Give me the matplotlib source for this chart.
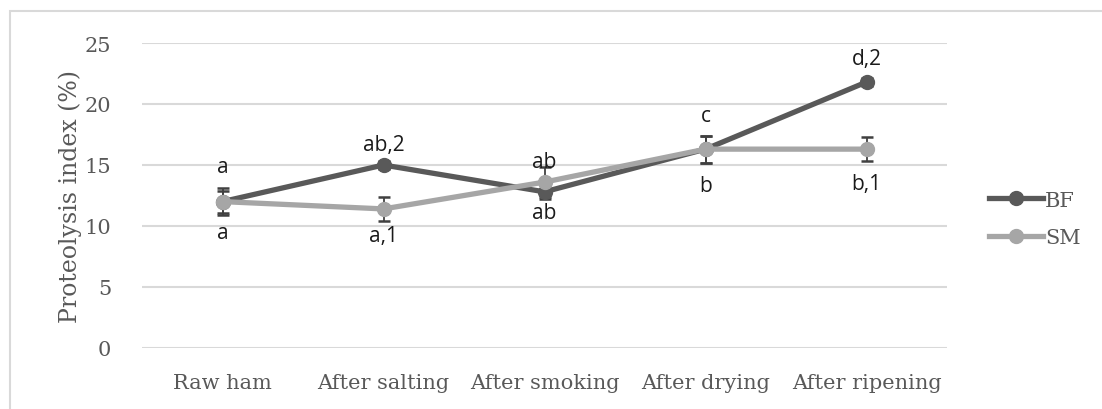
import matplotlib
matplotlib.use("Agg")
import matplotlib.pyplot as plt
from matplotlib.patches import Rectangle

stages = ["Raw ham", "After salting", "After smoking", "After drying", "After ripening"]
bf = [12.0, 15.0, 12.8, 16.3, 21.8]
sm = [12.0, 11.4, 13.6, 16.3, 16.3]
bf_err = [0.9, 0.3, 0.6, 1.1, 0.3]
sm_err = [1.1, 1.0, 1.2, 1.1, 1.0]
bf_labels = ["a", "ab,2", "ab", "c", "d,2"]
sm_labels = ["a", "a,1", "ab", "b", "b,1"]
yticks = [0, 5, 10, 15, 20, 25]

# label offsets (points, vertical) for each annotation
bf_off = [25, 15, -15, 24, 17]
sm_off = [-22, -19, 15, -26, -25]

dark = "#595959"
light = "#a6a6a6"
txt = "#595959"
serif = ["DejaVu Serif"]

fig = plt.figure(figsize=(11.02, 4.10), dpi=100)
ax = fig.add_axes([142 / 1102, 1 - 349 / 410, (947 - 142) / 1102, (349 - 44) / 410])

x = list(range(len(stages)))

ax.errorbar(x, bf, yerr=bf_err, fmt="none", ecolor="#404040", elinewidth=1.3,
            capsize=4.5, capthick=1.8, zorder=2, clip_on=False)
ax.errorbar(x, sm, yerr=sm_err, fmt="none", ecolor="#404040", elinewidth=1.3,
            capsize=4.5, capthick=1.8, zorder=2, clip_on=False)
ax.plot(x, bf, color=dark, lw=3.8, marker="o", ms=10, label="BF", zorder=3, clip_on=False)
ax.plot(x, sm, color=light, lw=3.8, marker="o", ms=10, label="SM", zorder=4, clip_on=False)

for xi, v, lab, off in zip(x, bf, bf_labels, bf_off):
    ax.annotate(lab, (xi, v), xytext=(0, off), textcoords="offset points",
                ha="center", va="center", fontsize=15, color="#1a1a1a", family="Open Sans")
for xi, v, lab, off in zip(x, sm, sm_labels, sm_off):
    ax.annotate(lab, (xi, v), xytext=(0, off), textcoords="offset points",
                ha="center", va="center", fontsize=15, color="#1a1a1a", family="Open Sans")

ax.set_xlim(-0.5, len(stages) - 0.5)
ax.set_ylim(0, 25)
ax.set_yticks(yticks)
ax.set_xticks(x)
ax.set_xticklabels(stages)
ax.grid(axis="y", color="#d9d9d9", lw=1.5)
ax.set_axisbelow(True)
for s in ax.spines.values():
    s.set_visible(False)
ax.tick_params(length=0, labelsize=15, colors=txt)
ax.tick_params(axis="y", pad=22)
ax.tick_params(axis="x", pad=18)
for lab in ax.get_xticklabels() + ax.get_yticklabels():
    lab.set_family(serif)
ax.set_ylabel("Proteolysis index (%)", fontsize=17, color=txt, family=serif, labelpad=2)

leg = ax.legend(loc="center left", bbox_to_anchor=(970 / 1102, 1 - 220 / 410),
                bbox_transform=fig.transFigure, frameon=False, handlelength=2.6,
                handletextpad=0.1, labelspacing=0.9, prop={"family": serif, "size": 15})
for t in leg.get_texts():
    t.set_color(txt)

fig.patches.append(Rectangle((10 / 1102, -0.1), 1.2, 1 - 12 / 410 + 0.1,
                             transform=fig.transFigure, fill=False,
                             edgecolor="#d9d9d9", lw=1.5))

fig.savefig("out.png", dpi=100)
